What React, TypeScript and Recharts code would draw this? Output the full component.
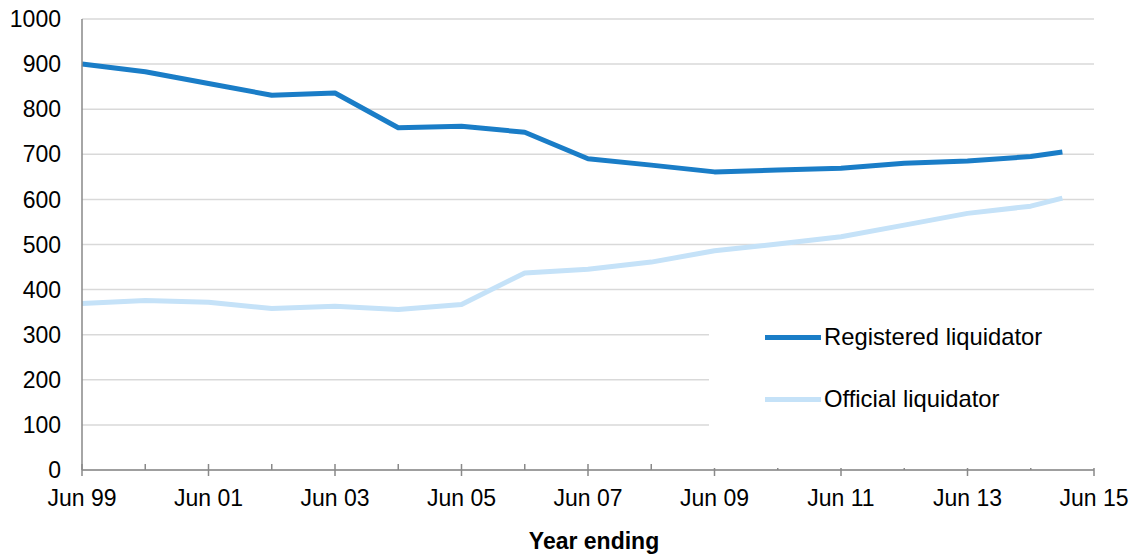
import React from 'react';
import { LineChart, Line, XAxis, YAxis, CartesianGrid, Legend } from 'recharts';

// Periods (year ending) and their position in years after Jun 99
const periods = ['Jun 99', 'Jun 00', 'Jun 01', 'Jun 02', 'Jun 03', 'Jun 04', 'Jun 05', 'Jun 06', 'Jun 07', 'Jun 08', 'Jun 09', 'Jun 10', 'Jun 11', 'Jun 12', 'Jun 13', 'Jun 14', 'Dec 14'];
const periodPositions = [0, 1, 2, 3, 4, 5, 6, 7, 8, 9, 10, 11, 12, 13, 14, 15, 15.5];

const registeredLiquidator = [900, 883, 857, 831, 836, 759, 762, 749, 690, 676, 661, 665, 669, 680, 685, 695, 705];
const officialLiquidator = [369, 376, 372, 358, 363, 356, 367, 437, 445, 461, 486, 501, 517, 543, 569, 585, 603];

// Axis ticks
const xTicks = [0, 1, 2, 3, 4, 5, 6, 7, 8, 9, 10, 11, 12, 13, 14, 15, 16];
const xTickLabels = ['Jun 99', '', 'Jun 01', '', 'Jun 03', '', 'Jun 05', '', 'Jun 07', '', 'Jun 09', '', 'Jun 11', '', 'Jun 13', '', 'Jun 15'];
const yTicks = [0, 100, 200, 300, 400, 500, 600, 700, 800, 900, 1000];

const seriesNames = { registered: 'Registered liquidator', official: 'Official liquidator' };
const seriesOrder = ['registered', 'official'];
const colors = { registered: '#1a7dc7', official: '#c5e2f8' };

const FONT = '"Liberation Sans", Arial, sans-serif';
const AXIS_COLOR = '#898989';
const TICK_SIZE = 6;
const TICK_MARGIN = 14;

const data = periods.map((p, i) => ({
  period: p,
  t: periodPositions[i],
  registered: registeredLiquidator[i],
  official: officialLiquidator[i],
}));

const XTick = (props: any) => {
  const { x, y, index } = props;
  const axisY = y - TICK_SIZE - TICK_MARGIN;
  const label = xTickLabels[index] ?? '';
  const major = label !== '';
  return (
    <g>
      <line x1={x} x2={x} y1={axisY - 6} y2={major ? axisY + 6 : axisY} stroke={AXIS_COLOR} strokeWidth={1.5} />
      {major && (
        <text x={x} y={y} dy="0.71em" textAnchor="middle" fill="#000" fontSize={23} fontFamily={FONT}>
          {label}
        </text>
      )}
    </g>
  );
};

const LegendContent = (props: any) => {
  const items = [...(props.payload || [])].sort(
    (a: any, b: any) => seriesOrder.indexOf(a.dataKey) - seriesOrder.indexOf(b.dataKey)
  );
  return (
    <div style={{ background: '#fff', width: '100%', height: '100%', boxSizing: 'border-box', paddingTop: 0, paddingLeft: 56 }}>
      {items.map((entry: any, i: number) => (
        <div key={i} style={{ display: 'flex', alignItems: 'center', height: 62 }}>
          <div style={{ width: 56, height: 5, background: entry.color }} />
          <span style={{ fontFamily: FONT, fontSize: 23.8, color: '#000', marginLeft: 3, lineHeight: '26px' }}>{entry.value}</span>
        </div>
      ))}
    </div>
  );
};

export default function App() {
  return (
    <div style={{ position: 'absolute', left: 0, top: 0, width: 1135, height: 555, background: '#fff' }}>
      <LineChart
        width={1135}
        height={555}
        data={data}
        margin={{ top: 19, right: 41, left: 22, bottom: 0 }}
      >
        <CartesianGrid vertical={false} stroke="#d9d9d9" strokeWidth={1.5} />
        <XAxis
          dataKey="t"
          type="number"
          domain={[0, 16]}
          ticks={xTicks}
          interval={0}
          height={85}
          tickSize={TICK_SIZE}
          tickMargin={TICK_MARGIN}
          tickLine={false}
          axisLine={{ stroke: AXIS_COLOR, strokeWidth: 1.5 }}
          tick={<XTick />}
          label={{ value: 'Year ending', position: 'insideBottom', offset: 6, dx: 6, fontSize: 23, fontWeight: 'bold', fill: '#000', fontFamily: FONT }}
        />
        <YAxis
          domain={[0, 1000]}
          ticks={yTicks}
          interval={0}
          width={60}
          tickSize={8}
          tickMargin={13}
          tickLine={false}
          axisLine={{ stroke: AXIS_COLOR, strokeWidth: 1.5 }}
          tick={{ fontSize: 23, fill: '#000', fontFamily: FONT }}
        />
        <Legend
          layout="vertical"
          align="center"
          verticalAlign="middle"
          content={<LegendContent />}
          wrapperStyle={{ left: 709, top: 306, width: 386, height: 162 }}
        />
        <Line
          type="linear"
          dataKey="registered"
          name={seriesNames.registered}
          stroke={colors.registered}
          strokeWidth={5}
          dot={false}
          strokeLinejoin="round"
          isAnimationActive={false}
        />
        <Line
          type="linear"
          dataKey="official"
          name={seriesNames.official}
          stroke={colors.official}
          strokeWidth={5}
          dot={false}
          strokeLinejoin="round"
          isAnimationActive={false}
        />
      </LineChart>
    </div>
  );
}
